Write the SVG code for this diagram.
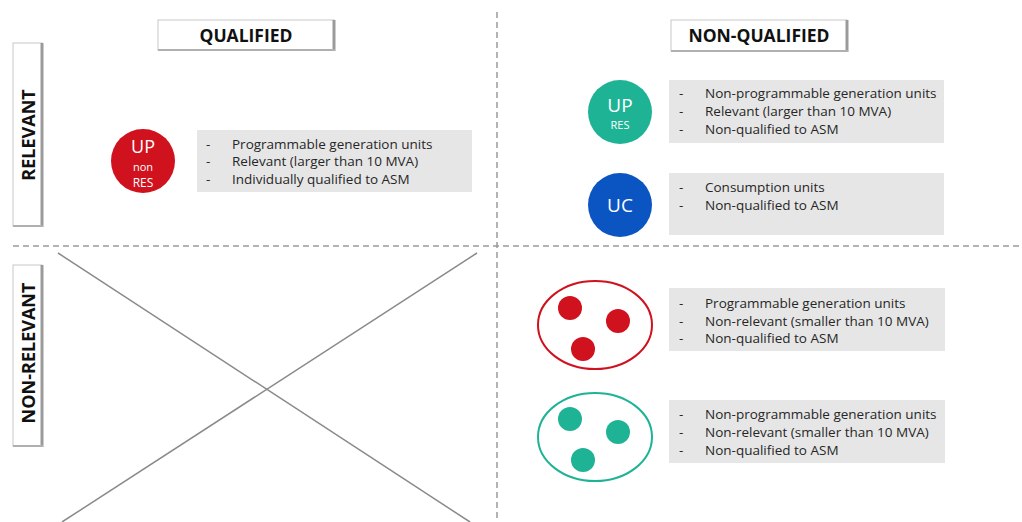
<svg xmlns="http://www.w3.org/2000/svg" width="1022" height="522" viewBox="0 0 1022 522">
<style>
text{font-family:"Open Sans","DejaVu Sans",sans-serif;fill:#222}
.hdr{font-size:17.5px;font-weight:bold;text-anchor:middle;fill:#111}
.side{font-size:18px;font-weight:bold;text-anchor:middle;fill:#111}
.hbox{fill:#fff;stroke:#c8c8c8;stroke-width:1}
.shadow{stroke:#9a9a9a;stroke-width:3;fill:none}
.tbox{fill:#e6e6e6}
.desc{font-size:13.5px;fill:#262626}
.ctext{fill:#fff;text-anchor:middle}
.dash{stroke:#9a9a9a;stroke-width:1.5;stroke-dasharray:6 4;fill:none}
.cross{stroke:#8a8a8a;stroke-width:1.5;fill:none}
.red{fill:#d0111e}
.teal{fill:#1fb396}
.blue{fill:#0b55c3}
</style>
<rect width="1022" height="522" fill="#fff"/>
<g id="grid">
<line class="dash" x1="497" y1="12" x2="497" y2="522"/>
<line class="dash" x1="13" y1="246" x2="1022" y2="246"/>
</g>
<g id="header-qualified">
<rect class="hbox" x="158" y="20" width="176" height="30"/>
<line class="shadow" x1="334" y1="20" x2="334" y2="51"/>
<line x1="158" y1="50" x2="335" y2="50" stroke="#b0b0b0" stroke-width="2"/>
<text class="hdr" x="246" y="42">QUALIFIED</text>
</g>
<g id="header-nonqualified">
<rect class="hbox" x="671" y="20" width="176" height="31"/>
<line class="shadow" x1="847" y1="20" x2="847" y2="52"/>
<line x1="671" y1="51" x2="848" y2="51" stroke="#b0b0b0" stroke-width="2"/>
<text class="hdr" x="759" y="42">NON-QUALIFIED</text>
</g>
<g id="side-relevant">
<rect class="hbox" x="13" y="43" width="29" height="183"/>
<line class="shadow" x1="42" y1="43" x2="42" y2="227"/>
<line x1="13" y1="226" x2="43" y2="226" stroke="#b0b0b0" stroke-width="2"/>
<text class="side" transform="translate(35,135) rotate(-90)">RELEVANT</text>
</g>
<g id="side-nonrelevant">
<rect class="hbox" x="13" y="265" width="29" height="181"/>
<line class="shadow" x1="42" y1="265" x2="42" y2="447"/>
<line x1="13" y1="446" x2="43" y2="446" stroke="#b0b0b0" stroke-width="2"/>
<text class="side" transform="translate(35,353) rotate(-90)">NON-RELEVANT</text>
</g>
<g id="cross">
<line class="cross" x1="58" y1="253" x2="470" y2="522"/>
<line class="cross" x1="477" y1="253" x2="62" y2="522"/>
</g>
<g id="up-nonres">
<circle class="red" cx="143" cy="161" r="32"/>
<text class="ctext" x="143" y="153" font-size="18">UP</text>
<text class="ctext" x="143" y="171" font-size="11">non</text>
<text class="ctext" x="143" y="187" font-size="12">RES</text>
<rect class="tbox" x="197" y="130" width="275" height="62"/>
<text class="desc"><tspan x="206" y="149">-</tspan><tspan x="232" y="149">Programmable generation units</tspan><tspan x="206" y="166">-</tspan><tspan x="232" y="166">Relevant (larger than 10 MVA)</tspan><tspan x="206" y="184">-</tspan><tspan x="232" y="184">Individually qualified to ASM</tspan></text>
</g>
<g id="up-res">
<circle class="teal" cx="620" cy="112" r="32"/>
<text class="ctext" x="620" y="112" font-size="19">UP</text>
<text class="ctext" x="620" y="129" font-size="11">RES</text>
<rect class="tbox" x="669" y="80" width="275" height="63"/>
<text class="desc"><tspan x="679" y="98">-</tspan><tspan x="705" y="98">Non-programmable generation units</tspan><tspan x="679" y="116">-</tspan><tspan x="705" y="116">Relevant (larger than 10 MVA)</tspan><tspan x="679" y="134">-</tspan><tspan x="705" y="134">Non-qualified to ASM</tspan></text>
</g>
<g id="uc">
<circle class="blue" cx="620" cy="205" r="32"/>
<text class="ctext" x="620" y="212" font-size="19">UC</text>
<rect class="tbox" x="669" y="173" width="275" height="62"/>
<text class="desc"><tspan x="679" y="192">-</tspan><tspan x="705" y="192">Consumption units</tspan><tspan x="679" y="210">-</tspan><tspan x="705" y="210">Non-qualified to ASM</tspan></text>
</g>
<g id="small-nonres">
<ellipse cx="595" cy="325" rx="57" ry="44" fill="none" stroke="#d0111e" stroke-width="2"/>
<circle class="red" cx="570" cy="308" r="12"/>
<circle class="red" cx="618" cy="321" r="12"/>
<circle class="red" cx="583" cy="349" r="12"/>
<rect class="tbox" x="669" y="288" width="276" height="63"/>
<text class="desc"><tspan x="679" y="308">-</tspan><tspan x="705" y="308">Programmable generation units</tspan><tspan x="679" y="326">-</tspan><tspan x="705" y="326">Non-relevant (smaller than 10 MVA)</tspan><tspan x="679" y="343">-</tspan><tspan x="705" y="343">Non-qualified to ASM</tspan></text>
</g>
<g id="small-res">
<ellipse cx="595" cy="437" rx="57" ry="44" fill="none" stroke="#1fb396" stroke-width="2"/>
<circle class="teal" cx="570" cy="419" r="12"/>
<circle class="teal" cx="618" cy="432" r="12"/>
<circle class="teal" cx="583" cy="460" r="12"/>
<rect class="tbox" x="669" y="400" width="276" height="63"/>
<text class="desc"><tspan x="679" y="419">-</tspan><tspan x="705" y="419">Non-programmable generation units</tspan><tspan x="679" y="437">-</tspan><tspan x="705" y="437">Non-relevant (smaller than 10 MVA)</tspan><tspan x="679" y="455">-</tspan><tspan x="705" y="455">Non-qualified to ASM</tspan></text>
</g>
</svg>
